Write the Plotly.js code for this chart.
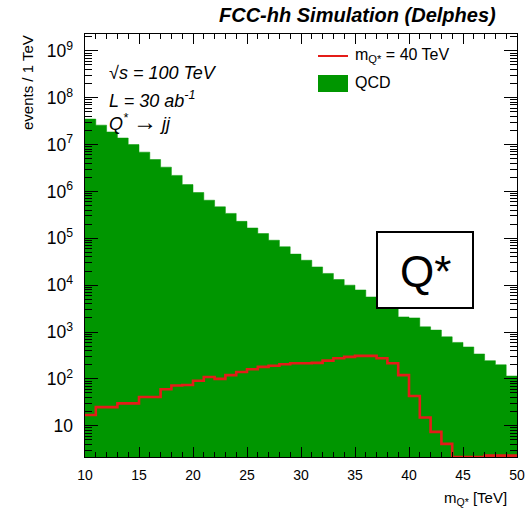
<!DOCTYPE html>
<html>
<head>
<meta charset="utf-8">
<script src="https://cdn.plot.ly/plotly-3.0.1.min.js"></script>
<style>
  html, body { margin: 0; padding: 0; background: #fff; }
  #chart { width: 531px; height: 511px; }
</style>
</head>
<body>
<div id="chart"></div>
<script>
// Dijet invariant mass histogram: 1 TeV bins from 10 to 50 TeV (lower edges)
const binLow = [10, 11, 12, 13, 14, 15, 16, 17, 18, 19,
                20, 21, 22, 23, 24, 25, 26, 27, 28, 29,
                30, 31, 32, 33, 34, 35, 36, 37, 38, 39,
                40, 41, 42, 43, 44, 45, 46, 47, 48, 49];

// QCD background, events per 1 TeV
const qcdEvents = [3.5e7, 2.6e7, 1.86e7, 1.38e7, 1.0e7, 6.9e6, 4.8e6, 3.3e6, 2.2e6, 1.4e6,
                   9.5e5, 6.5e5, 4.7e5, 3.4e5, 2.3e5, 1.66e5, 1.26e5, 9.1e4, 6.6e4, 4.6e4,
                   3.4e4, 2.45e4, 1.78e4, 1.32e4, 1.0e4, 7.9e3, 5.6e3, 4.2e3, 3.2e3, 2.1e3,
                   2.0e3, 1290, 1100, 790, 600, 480, 340, 245, 200, 115];

// Excited quark signal, m(Q*) = 40 TeV, events per 1 TeV
const signalEvents = [17, 25, 25, 30, 30, 41, 41, 60, 72, 74,
                      91, 110, 100, 120, 140, 160, 180, 190, 205, 215,
                      215, 220, 245, 275, 295, 310, 310, 275, 215, 120,
                      43, 15, 7.4, 4.1, 1, 1, 1, 2.3, 2.3, 2.3];

const binWidth = 1;
const xRange = [10, 50];
const yLogRange = [0.333, 9.36];
const yFloor = Math.pow(10, yLogRange[0]);
const yBelow = Math.pow(10, yLogRange[0] - 1);   // closes the filled histogram under the frame

const green = 'rgb(0,150,0)';
const red = 'rgb(228,28,24)';
const font = 'Liberation Sans, Arial, Helvetica, sans-serif';

const lastEdge = binLow[binLow.length - 1] + binWidth;

// QCD: filled step outline (left edge of each bin, closed down below the axis)
const qcdX = [binLow[0]].concat(binLow, [lastEdge, lastEdge]);
const qcdY = [yBelow].concat(qcdEvents, [qcdEvents[qcdEvents.length - 1], yBelow]);
const qcdTrace = {
  type: 'scatter',
  mode: 'lines',
  x: qcdX,
  y: qcdY,
  fill: 'toself',
  fillcolor: green,
  line: { color: green, width: 0.5, shape: 'hv' },
  hoverinfo: 'skip',
  showlegend: false
};

// signal: step outline, last level repeated at the upper edge
const sigX = binLow.concat([lastEdge]);
const sigYRaw = signalEvents.concat([signalEvents[signalEvents.length - 1]]);
const sigTrace = {
  type: 'scatter',
  mode: 'lines',
  x: sigX,
  y: sigYRaw.map(v => Math.max(v, yFloor)),
  line: { color: red, width: 2.6, shape: 'hv' },
  hoverinfo: 'x+y',
  showlegend: false
};

// plot-area geometry helpers (paper coords from pixel offsets)
const L = 85, R = 14, T = 34, B = 54, W = 531, H = 511;
const pw = W - L - R, ph = H - T - B;
const px = x => (x - L) / pw;
const py = y => (H - B - y) / ph;

const layout = {
  width: W,
  height: H,
  margin: { l: L, r: R, t: T, b: B, pad: 0 },
  paper_bgcolor: '#ffffff',
  plot_bgcolor: '#ffffff',
  showlegend: false,
  font: { family: font, color: '#000' },
  xaxis: {
    range: xRange,
    tick0: 10,
    dtick: 5,
    ticks: 'inside',
    ticklen: 10,
    tickwidth: 1,
    tickcolor: '#000',
    showline: true,
    linecolor: '#000',
    linewidth: 1.2,
    mirror: 'ticks',
    showgrid: false,
    zeroline: false,
    ticklabelstandoff: 5,
    tickfont: { family: font, size: 14, color: '#000' },
    minor: { dtick: 1, ticks: 'inside', ticklen: 5, tickwidth: 1, tickcolor: '#000', showgrid: false }
  },
  yaxis: {
    type: 'log',
    range: yLogRange,
    dtick: 1,
    exponentformat: 'power',
    ticks: 'inside',
    ticklen: 13,
    tickwidth: 1,
    tickcolor: '#000',
    showline: true,
    linecolor: '#000',
    linewidth: 1.2,
    mirror: 'ticks',
    showgrid: false,
    zeroline: false,
    ticklabelstandoff: 8,
    tickfont: { family: font, size: 14, color: '#000' },
    minor: { dtick: 'D1', ticks: 'inside', ticklen: 7, tickwidth: 1, tickcolor: '#000', showgrid: false }
  },
  shapes: [
    // legend swatches
    { type: 'line', xref: 'paper', yref: 'paper', x0: px(318), x1: px(348), y0: py(56), y1: py(56),
      line: { color: red, width: 2 } },
    { type: 'rect', xref: 'paper', yref: 'paper', x0: px(318), x1: px(348), y0: py(92), y1: py(75),
      fillcolor: green, line: { width: 0 } },
    // boxed label
    { type: 'rect', xref: 'paper', yref: 'paper', layer: 'above',
      x0: px(377), x1: px(473), y0: py(308), y1: py(232),
      fillcolor: '#ffffff', line: { color: '#000', width: 2 } }
  ],
  annotations: [
    { xref: 'paper', yref: 'paper', x: px(498), y: py(15), xanchor: 'right', yanchor: 'middle',
      text: '<b><i>FCC-hh Simulation (Delphes)</i></b>', showarrow: false,
      font: { family: font, size: 20, color: '#000' } },
    { xref: 'paper', yref: 'paper', x: px(107), y: py(73), xanchor: 'left', yanchor: 'middle',
      text: '<i>√s = 100 TeV</i>', showarrow: false,
      font: { family: font, size: 18, color: '#000' } },
    { xref: 'paper', yref: 'paper', x: px(107), y: py(99), xanchor: 'left', yanchor: 'middle',
      text: '<i>L = 30 ab<sup>-1</sup></i>', showarrow: false,
      font: { family: font, size: 18, color: '#000' } },
    { xref: 'paper', yref: 'paper', x: px(107), y: py(122), xanchor: 'left', yanchor: 'middle',
      text: '<i>Q<sup>*</sup> <span style="font-size:24px">→</span> jj</i>', showarrow: false,
      font: { family: font, size: 18, color: '#000' } },
    { xref: 'paper', yref: 'paper', x: px(353), y: py(56), xanchor: 'left', yanchor: 'middle',
      text: 'm<sub>Q*</sub> = 40 TeV', showarrow: false,
      font: { family: font, size: 16, color: '#000' } },
    { xref: 'paper', yref: 'paper', x: px(353), y: py(83), xanchor: 'left', yanchor: 'middle',
      text: 'QCD', showarrow: false,
      font: { family: font, size: 16, color: '#000' } },
    { xref: 'paper', yref: 'paper', x: px(425), y: py(271), xanchor: 'center', yanchor: 'middle',
      text: 'Q*', showarrow: false,
      font: { family: font, size: 44, color: '#000' } },
    { xref: 'paper', yref: 'paper', x: px(509), y: py(498), xanchor: 'right', yanchor: 'middle',
      text: 'm<sub>Q*</sub> [TeV]', showarrow: false,
      font: { family: font, size: 15, color: '#000' } },
    { xref: 'paper', yref: 'paper', x: px(28), y: py(83), xanchor: 'center', yanchor: 'middle',
      textangle: -90, text: 'events / 1 TeV', showarrow: false,
      font: { family: font, size: 15, color: '#000' } }
  ]
};

Plotly.newPlot('chart', [qcdTrace, sigTrace], layout, { staticPlot: true, displayModeBar: false });
</script>
</body>
</html>
